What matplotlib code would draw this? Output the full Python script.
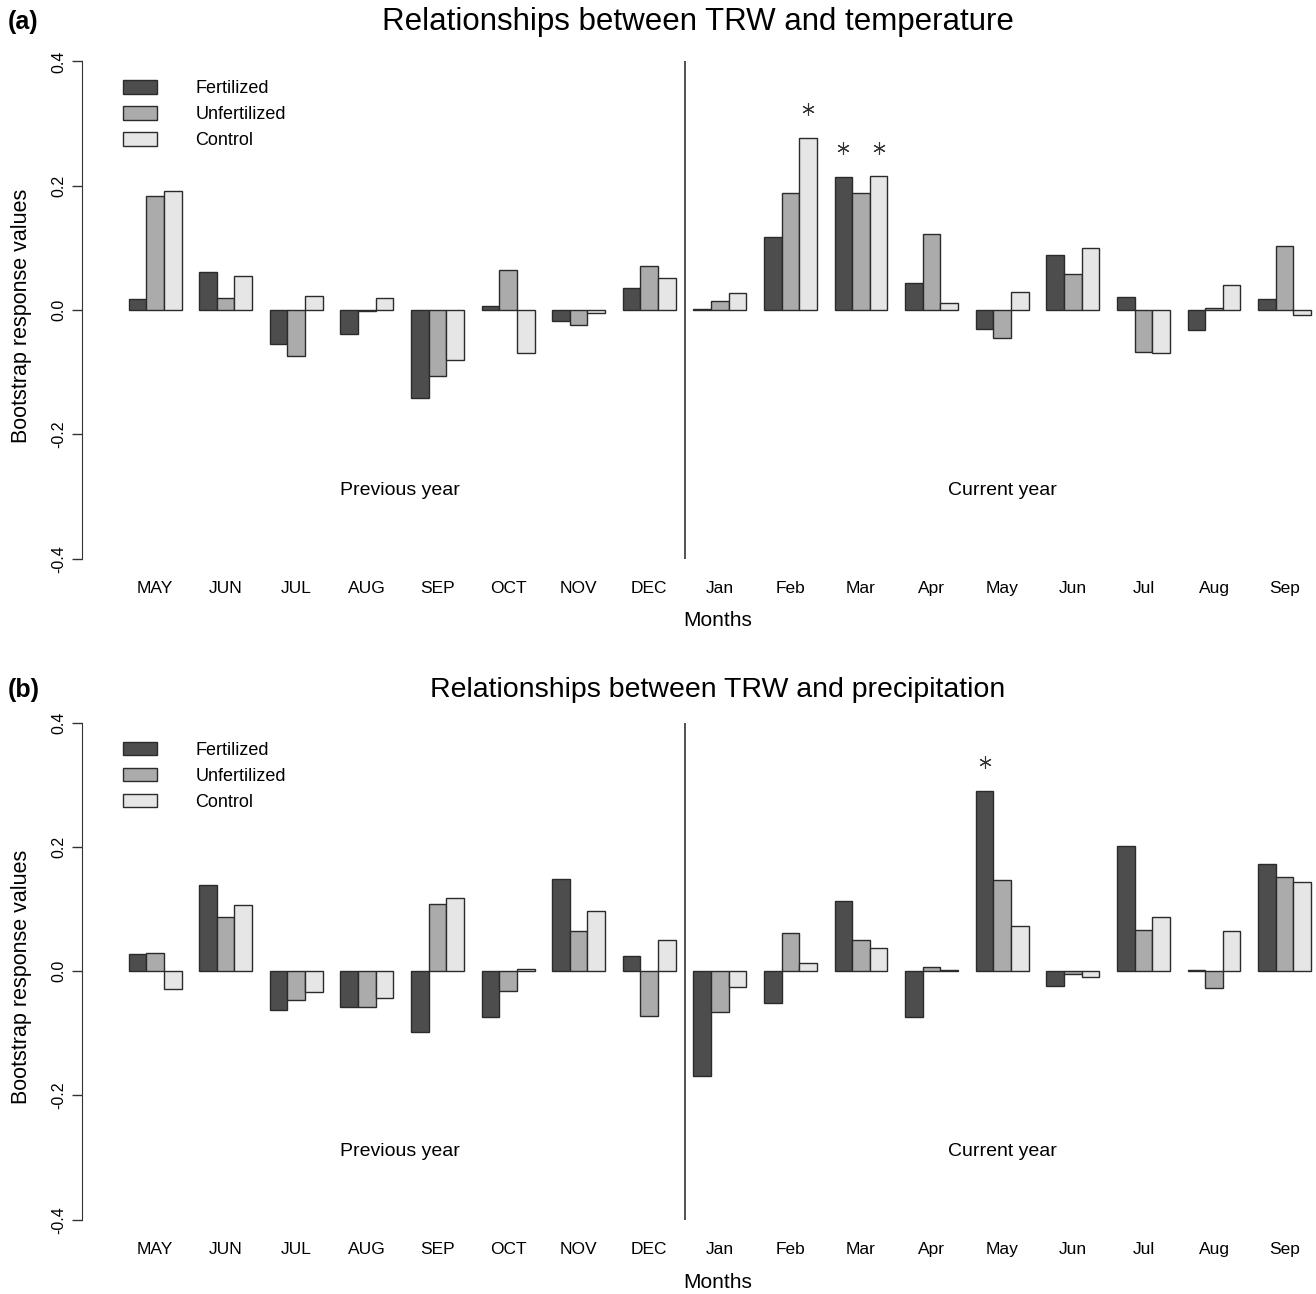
"""
Bootstrap response values of TRW vs. climate (temperature / precipitation),
previous-year and current-year months, three treatments.
"""

import matplotlib
matplotlib.use('Agg')
import matplotlib.pyplot as plt
import numpy as np


MONTHS = ['MAY', 'JUN', 'JUL', 'AUG', 'SEP', 'OCT', 'NOV', 'DEC',
          'Jan', 'Feb', 'Mar', 'Apr', 'May', 'Jun', 'Jul', 'Aug', 'Sep']
TREATMENTS = ['Fertilized', 'Unfertilized', 'Control']

# (a) temperature
temp_fert = [0.018, 0.062, -0.055, -0.039, -0.142, 0.007, -0.018, 0.036,
             0.001, 0.118, 0.214, 0.044, -0.030, 0.089, 0.021, -0.032, 0.018]
temp_unfert = [0.183, 0.020, -0.074, -0.002, -0.106, 0.064, -0.024, 0.071,
               0.014, 0.188, 0.188, 0.123, -0.045, 0.058, -0.067, 0.003, 0.103]
temp_ctrl = [0.192, 0.054, 0.023, 0.020, -0.080, -0.069, -0.004, 0.051,
             0.027, 0.277, 0.215, 0.011, 0.029, 0.100, -0.069, 0.041, -0.008]
# significant bars: (month index, treatment index)
temp_sig = [(9, 2), (10, 0), (10, 2)]

# (b) precipitation
prec_fert = [0.027, 0.139, -0.062, -0.058, -0.098, -0.074, 0.148, 0.024,
             -0.169, -0.051, 0.113, -0.073, 0.290, -0.023, 0.202, 0.002, 0.172]
prec_unfert = [0.029, 0.088, -0.046, -0.057, 0.108, -0.032, 0.064, -0.072,
               -0.065, 0.062, 0.050, 0.007, 0.146, -0.004, 0.067, -0.027, 0.152]
prec_ctrl = [-0.029, 0.106, -0.033, -0.043, 0.118, 0.004, 0.097, 0.051,
             -0.025, 0.014, 0.037, 0.002, 0.072, -0.009, 0.088, 0.064, 0.144]
prec_sig = [(12, 0)]

COLORS = ['#4d4d4d', '#ababab', '#e6e6e6']
EDGE = '#2b2b2b'
FONT = 'Liberation Sans'


def draw_panel(ax, series, sig, title, tag, title_x, title_y, title_size):
    # R-style beside barplot: groups of 3 unit-wide bars with 1 unit gap
    n = len(MONTHS)
    left = 1 + 4 * np.arange(n)
    for k, vals in enumerate(series):
        ax.bar(left + k + 0.5, vals, width=1.0, color=COLORS[k],
               edgecolor=EDGE, linewidth=1.0, label=TREATMENTS[k])

    # significance asterisks
    for m, k in sig:
        ax.plot(left[m] + k + 0.5, series[k][m] + 0.046, marker=(6, 2, 0),
                ms=9, mew=0.8, color='#333333', ls='none')

    # separator previous / current year
    ax.vlines(left[8] - 0.5, -0.4, 0.4, color='#333333', lw=1.2)
    ax.text(16.4, -0.29, 'Previous year', ha='center', va='center',
            fontsize=14, family=FONT)
    ax.text(50.5, -0.29, 'Current year', ha='center', va='center',
            fontsize=14, family=FONT)

    ax.set_xlim(-1.64, 68.28)
    ax.set_ylim(-0.432, 0.432)
    ax.set_xticks(left + 1.5)
    ax.set_xticklabels(MONTHS, family=FONT, fontsize=12.5)
    ax.tick_params(axis='x', length=0, pad=2)
    ax.set_yticks([-0.4, -0.2, 0.0, 0.2, 0.4])
    ax.set_yticklabels(['-0.4', '-0.2', '0.0', '0.2', '0.4'],
                       rotation=90, va='center', fontsize=11.5, family=FONT)
    ax.tick_params(axis='y', length=7, width=1, pad=4, color='#333333')
    for s in ['top', 'right', 'bottom']:
        ax.spines[s].set_visible(False)
    ax.spines['left'].set_bounds(-0.4, 0.4)
    ax.spines['left'].set_color('#333333')

    # axis titles placed by hand (R margins)
    ax.text(-0.049, 0.49, 'Bootstrap response values', transform=ax.transAxes,
            rotation=90, ha='center', va='center', fontsize=15.5, family=FONT)
    ax.text(0.515, -0.079, 'Months', transform=ax.transAxes,
            ha='center', va='center', fontsize=15, family=FONT)
    ax.text(title_x, title_y, title, transform=ax.transAxes,
            ha='center', va='center', fontsize=title_size, family=FONT)
    ax.text(-0.06, title_y, tag, transform=ax.transAxes, fontsize=18,
            fontweight='bold', family=FONT, ha='left', va='center')

    ax.legend(loc='upper left', bbox_to_anchor=(0.02, 0.958), frameon=False,
              handlelength=1.9, handleheight=0.75, handletextpad=2.1,
              labelspacing=0.5, prop={'family': FONT, 'size': 13})


def main():
    fig = plt.figure(figsize=(13.16, 12.94), dpi=100)
    ax_a = fig.add_axes([0.0623, 0.5529, 0.9377, 0.4150])
    ax_b = fig.add_axes([0.0623, 0.0420, 0.9377, 0.4149])

    draw_panel(ax_a, [temp_fert, temp_unfert, temp_ctrl], temp_sig,
               'Relationships between TRW and temperature', '(a)',
               0.499, 1.036, 22.5)
    draw_panel(ax_b, [prec_fert, prec_unfert, prec_ctrl], prec_sig,
               'Relationships between TRW and precipitation', '(b)',
               0.515, 1.024, 20.5)

    fig.savefig('out.png', dpi=100)
    plt.close(fig)


if __name__ == '__main__':
    main()
